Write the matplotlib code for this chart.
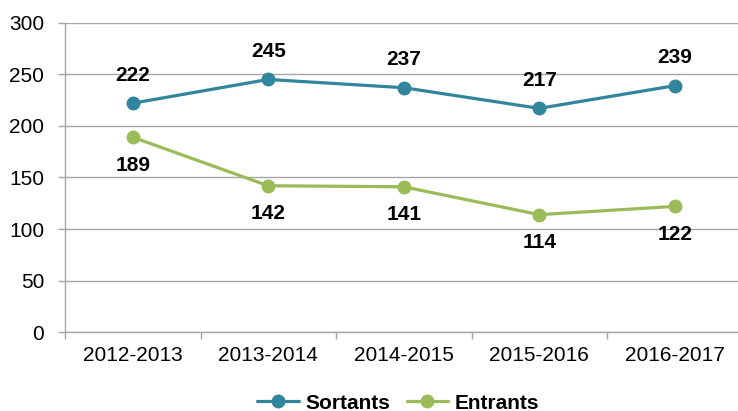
import matplotlib
matplotlib.use("Agg")
import matplotlib.pyplot as plt
import numpy as np

periods = ["2012-2013", "2013-2014", "2014-2015", "2015-2016", "2016-2017"]
sortants = [222, 245, 237, 217, 239]
entrants = [189, 142, 141, 114, 122]

teal = "#31859C"
green = "#9BBB59"
grid_gray = "#A6A6A6"

plt.rcParams["font.family"] = ["Liberation Sans", "DejaVu Sans"]

fig = plt.figure(figsize=(7.38, 4.11), dpi=100)
ax = fig.add_axes([65 / 738, 78.7 / 411, 677.5 / 738, 309.6 / 411])

x = np.arange(len(periods)) + 0.5
ax.plot(x, sortants, color=teal, lw=2.3, marker="o", ms=9, label="Sortants",
        solid_capstyle="round", zorder=3)
ax.plot(x, entrants, color=green, lw=2.3, marker="o", ms=9, label="Entrants",
        solid_capstyle="round", zorder=3)

for xi, v in zip(x, sortants):
    ax.annotate(str(v), (xi, v), xytext=(0, 20), textcoords="offset points",
                ha="center", va="center", fontsize=15, fontweight="bold")
for xi, v in zip(x, entrants):
    ax.annotate(str(v), (xi, v), xytext=(0, -20), textcoords="offset points",
                ha="center", va="center", fontsize=15, fontweight="bold")

ax.set_xlim(0, len(periods))
ax.set_ylim(0, 300)
ax.set_yticks(range(0, 301, 50))
ax.set_xticks(np.arange(len(periods) + 1))
ax.set_xticklabels([])
ax.set_xticks(x, minor=True)
ax.set_xticklabels(periods, minor=True)
ax.tick_params(axis="x", which="major", length=5, color=grid_gray, width=1)
ax.tick_params(axis="x", which="minor", length=0, labelsize=15, pad=10)
ax.tick_params(axis="y", length=5, color=grid_gray, width=1, labelsize=15, pad=10)

ax.grid(axis="y", color=grid_gray, lw=1)
ax.set_axisbelow(True)
for s in ["top", "right"]:
    ax.spines[s].set_visible(False)
for s in ["left", "bottom"]:
    ax.spines[s].set_color(grid_gray)
    ax.spines[s].set_linewidth(1)

leg = fig.legend(loc="center", bbox_to_anchor=(398 / 738, 8 / 411), ncol=2, frameon=False,
                 prop={"weight": "bold", "size": 15}, handlelength=2.0,
                 handletextpad=0.3, columnspacing=0.8)

fig.savefig("out.png", dpi=100)
